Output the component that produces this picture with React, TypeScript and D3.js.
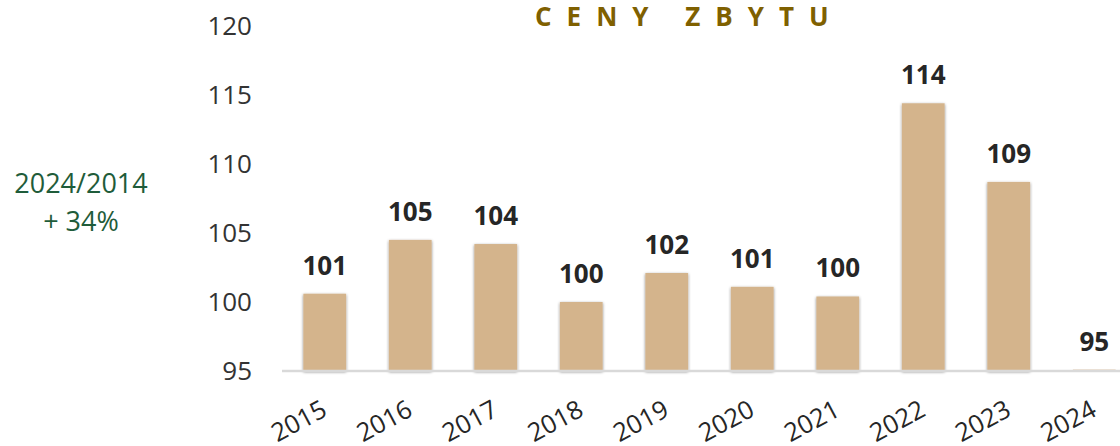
import React from "react";
import * as d3 from "d3";

const years = ["2015", "2016", "2017", "2018", "2019", "2020", "2021", "2022", "2023", "2024"];
const values = [100.6, 104.5, 104.2, 100.0, 102.1, 101.1, 100.4, 114.4, 108.7, 95.1];
const labels = ["101", "105", "104", "100", "102", "101", "100", "114", "109", "95"];
const yTicks = [95, 100, 105, 110, 115, 120];
const title = "CENY ZBYTU";
const noteLines = ["2024/2014", "+ 34%"];

const W = 1120;
const H = 446;
const FONT = "'Open Sans', 'Noto Sans', sans-serif";

export default function App() {
  const x = d3.scaleBand<string>().domain(years).range([282, 1137]).paddingInner(0.5).paddingOuter(0.25);
  const y = d3.scaleLinear().domain([95, 120]).range([371, 26]);

  return (
    <svg width={W} height={H} style={{ position: "absolute", left: 0, top: 0, display: "block" }}>
      <defs>
        <filter id="sh" x="-30%" y="-10%" width="160%" height="120%">
          <feGaussianBlur in="SourceAlpha" stdDeviation="1.6" />
          <feOffset dx="0" dy="1" result="b" />
          <feComponentTransfer>
            <feFuncA type="linear" slope="0.5" />
          </feComponentTransfer>
          <feMerge>
            <feMergeNode />
            <feMergeNode in="SourceGraphic" />
          </feMerge>
        </filter>
      </defs>
      <rect width={W} height={H} fill="#fff" />

      <text x={535} y={26} fill="#7F6000" fontFamily={FONT} fontWeight={700} fontSize={26} letterSpacing={15}>
        {title}
      </text>

      {noteLines.map((t, i) => (
        <text key={t} x={81} y={193 + i * 38} textAnchor="middle" fill="#1F5C3A" fontFamily={FONT} fontSize={27}>
          {t}
        </text>
      ))}

      {yTicks.map((t) => (
        <text key={t} x={252} y={y(t)} dy="0.36em" textAnchor="end" fill="#333" fontFamily={FONT} fontSize={26}>
          {t}
        </text>
      ))}

      {years.map((yr, i) => (
        <rect
          key={yr}
          x={x(yr)}
          y={y(values[i])}
          width={x.bandwidth()}
          height={y(95) - y(values[i])}
          fill="#D4B48C"
          filter="url(#sh)"
        />
      ))}

      <line x1={282} x2={W} y1={y(95)} y2={y(95)} stroke="#D9D9D9" strokeWidth={2.5} />

      {years.map((yr, i) => (
        <text
          key={yr}
          x={(x(yr) as number) + x.bandwidth() / 2}
          y={y(values[i]) - 19}
          textAnchor="middle"
          fill="#262626"
          fontFamily={FONT}
          fontWeight={700}
          fontSize={26}
        >
          {labels[i]}
        </text>
      ))}

      {years.map((yr) => {
        const cx = (x(yr) as number) + x.bandwidth() / 2 + 4;
        const cy = 415;
        return (
          <text
            key={yr}
            x={cx}
            y={cy}
            textAnchor="end"
            fill="#262626"
            fontFamily={FONT}
            fontSize={25.5}
            transform={`rotate(-28 ${cx} ${cy})`}
          >
            {yr}
          </text>
        );
      })}
    </svg>
  );
}
